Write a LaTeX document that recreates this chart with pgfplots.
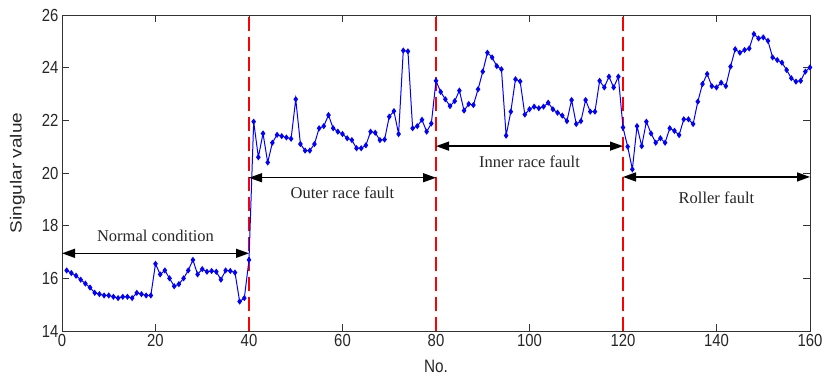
\documentclass[border=0pt]{standalone}
\usepackage{fontspec}
\setmainfont{Liberation Serif}
\setsansfont{Liberation Sans}
\usepackage{graphicx}
\usepackage{pgfplots}
\pgfplotsset{compat=1.18}
\usetikzlibrary{arrows.meta}
\pgfplotstableread{
n v
1 16.30
2 16.20
3 16.10
4 15.95
5 15.80
6 15.65
7 15.45
8 15.40
9 15.35
10 15.35
11 15.30
12 15.25
13 15.30
14 15.30
15 15.25
16 15.45
17 15.40
18 15.35
19 15.35
20 16.55
21 16.15
22 16.30
23 16.00
24 15.70
25 15.78
26 16.00
27 16.30
28 16.70
29 16.15
30 16.35
31 16.25
32 16.28
33 16.25
34 15.95
35 16.30
36 16.28
37 16.22
38 15.12
39 15.25
40 16.70
41 21.95
42 20.60
43 21.50
44 20.40
45 21.15
46 21.45
47 21.40
48 21.35
49 21.30
50 22.80
51 21.10
52 20.85
53 20.85
54 21.10
55 21.70
56 21.78
57 22.20
58 21.70
59 21.57
60 21.48
61 21.32
62 21.25
63 20.94
64 20.94
65 21.05
66 21.57
67 21.53
68 21.25
69 21.27
70 22.14
71 22.35
72 21.48
73 24.65
74 24.62
75 21.70
76 21.78
77 22.02
78 21.57
79 21.88
80 23.50
81 23.08
82 22.80
83 22.54
84 22.73
85 23.13
86 22.37
87 22.62
88 22.58
89 23.18
90 23.85
91 24.57
92 24.39
93 24.06
94 23.94
95 21.42
96 22.33
97 23.56
98 23.48
99 22.22
100 22.42
101 22.52
102 22.46
103 22.52
104 22.67
105 22.42
106 22.29
107 22.18
108 21.97
109 22.77
110 21.86
111 21.97
112 22.77
113 22.33
114 22.33
115 23.50
116 23.25
117 23.66
118 23.25
119 23.66
120 21.73
121 21.00
122 20.14
123 21.78
124 21.02
125 21.95
126 21.50
127 21.15
128 21.32
129 21.15
130 21.70
131 21.60
132 21.44
133 22.04
134 22.04
135 21.86
136 22.71
137 23.38
138 23.76
139 23.30
140 23.25
141 23.43
142 23.30
143 24.04
144 24.70
145 24.57
146 24.67
147 24.73
148 25.28
149 25.11
150 25.15
151 25.02
152 24.39
153 24.29
154 24.19
155 23.91
156 23.60
157 23.47
158 23.50
159 23.85
160 24.01
}\datatable
\newcommand{\cz}[1]{\scalebox{0.85}[1]{#1}}
\begin{document}
\begin{tikzpicture}
\path[use as bounding box] (-62pt,-49pt) rectangle (764pt,331pt);
\begin{axis}[
  scale only axis,
  width=748pt, height=316pt,
  xmin=0, xmax=160, ymin=14, ymax=26,
  xtick={0,20,...,160}, ytick={14,16,...,26},
  tick align=inside, xtick pos=both, ytick pos=both,
  major tick length=7pt,
  axis line style={black!80, line width=0.8pt},
  tick style={black!80, line width=0.8pt},
  ticklabel style={font=\sffamily\fontsize{17.5}{17.5}\selectfont, black!85},
  xticklabel={\cz{\pgfmathprintnumber[assume math mode=true]{\tick}}},
  yticklabel={\cz{\pgfmathprintnumber[assume math mode=true]{\tick}}},
  xlabel={\cz{No.}},
  ylabel={\scalebox{1}[0.85]{Singular value}},
  xlabel style={font=\sffamily\fontsize{18}{18}\selectfont, black!85, yshift=-6pt},
  ylabel style={font=\sffamily\fontsize{19}{19}\selectfont, black!85, yshift=10pt},
  clip=false,
]
\addplot[red, line width=1.1pt, dash pattern=on 14pt off 6pt] coordinates {(40,14) (40,26)};
\addplot[red, line width=1.1pt, dash pattern=on 14pt off 6pt] coordinates {(80,14) (80,26)};
\addplot[red, line width=1.1pt, dash pattern=on 14pt off 6pt] coordinates {(120,14) (120,26)};
\addplot[blue, line width=1pt, mark=diamond*, mark size=2.3pt, mark options={fill=blue, draw=blue}] table[x=n, y=v] {\datatable};
\draw[black, line width=1.3pt, {Triangle[length=13pt,width=9pt]}-{Triangle[length=13pt,width=9pt]}] (axis cs:0,16.95) -- (axis cs:40,16.95);
\draw[black, line width=1.3pt, {Triangle[length=13pt,width=9pt]}-{Triangle[length=13pt,width=9pt]}] (axis cs:40,19.82) -- (axis cs:80,19.82);
\draw[black, line width=1.3pt, {Triangle[length=13pt,width=9pt]}-{Triangle[length=13pt,width=9pt]}] (axis cs:80,21.02) -- (axis cs:120,21.02);
\draw[black, line width=1.3pt, {Triangle[length=13pt,width=9pt]}-{Triangle[length=13pt,width=9pt]}] (axis cs:120,19.85) -- (axis cs:160,19.85);
\node[font=\fontsize{16.5}{16.5}\selectfont, black!85] at (axis cs:20,17.62) {Normal condition};
\node[font=\fontsize{16.5}{16.5}\selectfont, black!85] at (axis cs:60,19.24) {Outer race fault};
\node[font=\fontsize{16.5}{16.5}\selectfont, black!85] at (axis cs:100,20.42) {Inner race fault};
\node[font=\fontsize{16.5}{16.5}\selectfont, black!85] at (axis cs:140,19.05) {Roller fault};
\end{axis}
\end{tikzpicture}
\end{document}
